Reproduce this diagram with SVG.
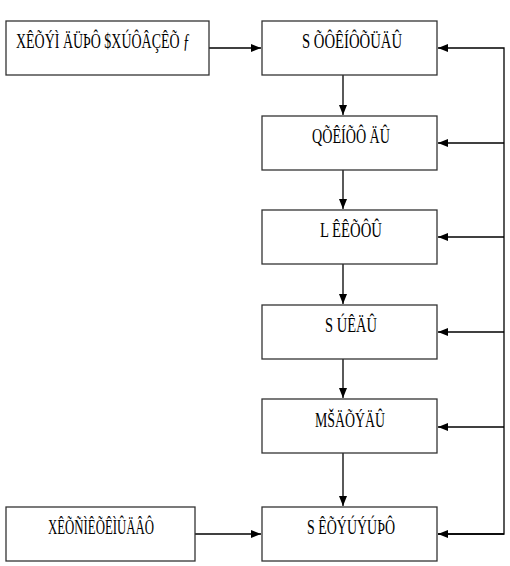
<svg xmlns="http://www.w3.org/2000/svg" width="510" height="566" viewBox="0 0 510 566">
<style>
.box{fill:#fff;stroke:#333;stroke-width:1.3}
.t{font-family:"Liberation Serif","Times New Roman",serif;font-size:22px;fill:#000}
.c{fill:none;stroke:#000;stroke-width:1.3}
</style>
<defs>
<marker id="ah" viewBox="0 0 10 8" refX="10" refY="4" markerWidth="10" markerHeight="8" markerUnits="userSpaceOnUse" orient="auto">
<path d="M0,0 L10,4 L0,8 z" fill="#000"/>
</marker>
</defs>
<rect width="510" height="566" fill="#fff"/>
<g id="connectors">
<line class="c" x1="209" y1="48" x2="261" y2="48" marker-end="url(#ah)"/>
<line class="c" x1="343" y1="75" x2="343" y2="115" marker-end="url(#ah)"/>
<line class="c" x1="343" y1="170" x2="343" y2="209" marker-end="url(#ah)"/>
<line class="c" x1="343" y1="264" x2="343" y2="304" marker-end="url(#ah)"/>
<line class="c" x1="343" y1="359" x2="343" y2="398" marker-end="url(#ah)"/>
<line class="c" x1="343" y1="453" x2="343" y2="506" marker-end="url(#ah)"/>
<line class="c" x1="195" y1="534" x2="261" y2="534" marker-end="url(#ah)"/>
<polyline class="c" points="438,534 504,534 504,48 438,48" marker-end="url(#ah)"/>
<line class="c" x1="504" y1="143" x2="438" y2="143" marker-end="url(#ah)"/>
<line class="c" x1="504" y1="237" x2="438" y2="237" marker-end="url(#ah)"/>
<line class="c" x1="504" y1="332" x2="438" y2="332" marker-end="url(#ah)"/>
<line class="c" x1="504" y1="427" x2="438" y2="427" marker-end="url(#ah)"/>
<line class="c" x1="504" y1="534" x2="438" y2="534" marker-end="url(#ah)"/>
</g>
<g id="n1"><rect class="box" x="6" y="21" width="203" height="54"/><text class="t" x="16" y="48" textLength="174" lengthAdjust="spacingAndGlyphs">XÊÕÝÌ ÄÜÞÔ $XÚÔÂÇÊÕ ƒ</text></g>
<g id="n2"><rect class="box" x="262" y="21" width="175" height="54"/><text class="t" x="302" y="48" textLength="100" lengthAdjust="spacingAndGlyphs">S ÕÔÊÍÔÕÜÄÛ</text></g>
<g id="n3"><rect class="box" x="262" y="116" width="175" height="54"/><text class="t" x="312" y="143" textLength="78" lengthAdjust="spacingAndGlyphs">QÕÊÍÕÔ ÄÛ</text></g>
<g id="n4"><rect class="box" x="262" y="210" width="175" height="54"/><text class="t" x="320" y="237" textLength="62" lengthAdjust="spacingAndGlyphs">L ÊÊÕÔÛ</text></g>
<g id="n5"><rect class="box" x="262" y="305" width="175" height="54"/><text class="t" x="325" y="332" textLength="52" lengthAdjust="spacingAndGlyphs">S ÚÊÄÛ</text></g>
<g id="n6"><rect class="box" x="262" y="399" width="175" height="54"/><text class="t" x="315" y="427" textLength="70" lengthAdjust="spacingAndGlyphs">MŠÄÕÝÄÛ</text></g>
<g id="n7"><rect class="box" x="6" y="507" width="189" height="54"/><text class="t" x="48" y="534" textLength="106" lengthAdjust="spacingAndGlyphs">XÊÕÑÌÊÕÊÌÛÄÂÔ</text></g>
<g id="n8"><rect class="box" x="262" y="507" width="175" height="54"/><text class="t" x="307" y="534" textLength="88" lengthAdjust="spacingAndGlyphs">S ÊÕÝÚÝÚÞÔ</text></g>
</svg>
